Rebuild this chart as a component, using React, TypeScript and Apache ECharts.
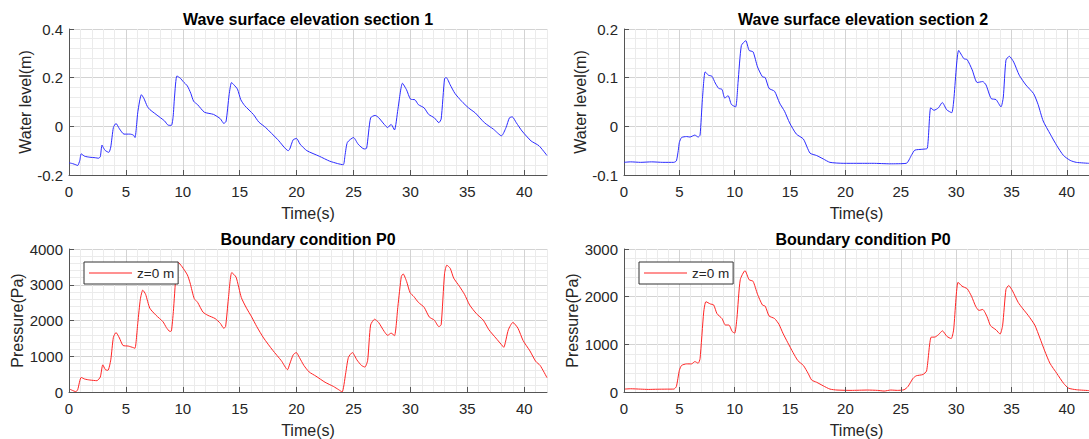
import { useEffect, useRef } from 'react';
import * as echarts from 'echarts';

// Wave surface elevation, section 1: [time (s), water level (m)]
const section1 = [
  [0, -0.15], [0.3, -0.153], [0.6, -0.158], [0.76, -0.161], [0.95, -0.14], [1.07, -0.113], [1.38, -0.123],
  [1.83, -0.127], [2.3, -0.129], [2.6, -0.131], [2.75, -0.125], [2.9, -0.077], [3.05, -0.09], [3.2, -0.1],
  [3.5, -0.107], [3.67, -0.085], [3.9, -0.005], [4.13, 0.012], [4.43, -0.01], [4.83, -0.032], [5.35, -0.032],
  [5.66, -0.036], [5.8, -0.046], [6.05, 0.06], [6.36, 0.13], [6.57, 0.116], [6.88, 0.082], [7.1, 0.069],
  [7.65, 0.049], [8.4, 0.022], [8.7, 0.005], [9.0, 0.004], [9.15, 0.04], [9.27, 0.12], [9.48, 0.207],
  [9.8, 0.197], [10.03, 0.184], [10.4, 0.166], [10.7, 0.136], [10.95, 0.103], [11.3, 0.089], [11.9, 0.058],
  [12.7, 0.049], [13.3, 0.031], [13.6, 0.012], [13.8, 0.02], [14.07, 0.13], [14.28, 0.18], [14.5, 0.17],
  [14.8, 0.153], [15.1, 0.109], [15.44, 0.085], [16.2, 0.049], [16.67, 0.018], [17.28, -0.005], [18.35, -0.055],
  [19.27, -0.1], [19.4, -0.093], [19.7, -0.055], [20.0, -0.05], [20.3, -0.073], [20.9, -0.1], [22.0, -0.123],
  [22.9, -0.143], [23.6, -0.153], [24.1, -0.158], [24.25, -0.12], [24.46, -0.066], [25.0, -0.046], [25.4, -0.073],
  [25.93, -0.093], [26.15, -0.09], [26.5, 0.035], [26.9, 0.045], [27.2, 0.036], [27.7, 0.008], [28.0, -0.005],
  [28.3, 0.008], [28.6, -0.015], [28.9, 0.07], [29.3, 0.177], [29.66, 0.15], [30.0, 0.112], [30.4, 0.109],
  [30.7, 0.089], [31.2, 0.076], [31.6, 0.049], [32.1, 0.035], [32.5, 0.015], [32.7, 0.03], [33.0, 0.197],
  [33.15, 0.2], [33.5, 0.17], [33.9, 0.136], [34.5, 0.103], [35.1, 0.076], [35.7, 0.055], [36.5, 0.015],
  [37.3, -0.012], [38.0, -0.039], [38.4, -0.005], [38.7, 0.035], [38.95, 0.039], [39.3, 0.015], [39.8, -0.019],
  [40.6, -0.06], [41.3, -0.08], [42.0, -0.12],
];

// Wave surface elevation, section 2: [time (s), water level (m)]
const section2 = [
  [0, -0.074], [0.6, -0.073], [1.5, -0.074], [2.5, -0.073], [3.5, -0.074], [4.5, -0.074], [4.73, -0.071],
  [4.9, -0.05], [5.0, -0.033], [5.2, -0.023], [5.65, -0.021], [5.95, -0.022], [6.4, -0.018], [6.7, -0.022],
  [6.87, -0.018], [7.08, 0.055], [7.33, 0.112], [7.63, 0.105], [7.94, 0.103], [8.24, 0.089], [8.55, 0.078],
  [8.85, 0.076], [9.1, 0.058], [9.4, 0.063], [9.7, 0.045], [10.08, 0.04], [10.3, 0.09], [10.6, 0.166],
  [11.0, 0.176], [11.3, 0.156], [11.66, 0.153], [12.06, 0.122], [12.5, 0.102], [12.76, 0.1], [13.1, 0.078],
  [13.6, 0.072], [14.05, 0.048], [14.5, 0.031], [14.96, 0.007], [15.57, -0.016], [16.2, -0.026], [16.8, -0.055],
  [17.4, -0.06], [18.0, -0.067], [18.6, -0.074], [19.85, -0.076], [21, -0.076], [22.5, -0.076], [24, -0.077],
  [25.5, -0.076], [25.95, -0.06], [26.26, -0.049], [27.0, -0.047], [27.4, -0.045], [27.7, 0.038], [28.0, 0.033],
  [28.4, 0.038], [28.75, 0.049], [29.15, 0.034], [29.6, 0.028], [29.77, 0.05], [30.23, 0.156], [30.7, 0.139],
  [31.0, 0.137], [31.45, 0.116], [31.9, 0.09], [32.4, 0.092], [32.7, 0.085], [33.16, 0.057], [33.6, 0.055],
  [34.05, 0.04], [34.26, 0.06], [34.5, 0.136], [34.8, 0.144], [35.2, 0.132], [35.7, 0.105], [36.3, 0.085],
  [37.0, 0.067], [37.4, 0.045], [37.86, 0.011], [38.5, -0.016], [39.1, -0.04], [39.7, -0.06], [40.3, -0.07],
  [40.85, -0.074], [42, -0.076],
];

// Boundary condition P0 (left): [time (s), pressure (Pa)]
const pressure1 = [
  [0, 90], [0.3, 45], [0.6, 10], [0.76, 60], [1.07, 407], [1.38, 362], [1.83, 335], [2.45, 317], [2.75, 420],
  [2.97, 760], [3.2, 624], [3.42, 606], [3.67, 900], [3.9, 1530], [4.13, 1665], [4.43, 1511], [4.74, 1303],
  [5.2, 1285], [5.66, 1240], [5.8, 1222], [6.05, 1950], [6.27, 2597], [6.48, 2850], [6.73, 2733], [7.1, 2344],
  [7.65, 2145], [8.26, 1964], [8.56, 1801], [8.87, 1692], [9.0, 1710], [9.17, 2250], [9.4, 3276], [9.57, 3638],
  [9.94, 3502], [10.4, 3276], [10.64, 3050], [11.0, 2615], [11.3, 2507], [11.77, 2235], [12.2, 2145],
  [12.84, 2054], [13.3, 1919], [13.6, 1783], [13.76, 1830], [14.0, 2597], [14.3, 3340], [14.68, 3213],
  [15.14, 2643], [15.6, 2344], [16.05, 2100], [16.5, 1828], [17.1, 1511], [17.9, 1167], [18.65, 878],
  [19.2, 624], [19.4, 790], [19.7, 1040], [19.97, 1104], [20.24, 968], [20.64, 742], [21.1, 561], [21.7, 443],
  [22.5, 272], [23.24, 154], [23.7, 63], [24.0, 0], [24.3, 500], [24.55, 968], [24.9, 1104], [25.3, 896],
  [25.7, 742], [26.0, 697], [26.24, 880], [26.5, 1873], [26.85, 2036], [27.2, 1946], [27.7, 1692], [28.0, 1584],
  [28.3, 1647], [28.6, 1575], [28.9, 2400], [29.2, 3231], [29.36, 3303], [29.66, 3095], [29.97, 2778],
  [30.3, 2670], [30.7, 2507], [31.2, 2371], [31.65, 2100], [32.1, 2009], [32.5, 1828], [32.7, 1880],
  [33.0, 3321], [33.2, 3548], [33.5, 3457], [33.8, 3186], [34.3, 2959], [34.75, 2733], [35.2, 2434],
  [35.8, 2190], [36.4, 2009], [36.9, 1738], [37.5, 1511], [38.1, 1285], [38.2, 1250], [38.6, 1738],
  [39.0, 1946], [39.45, 1783], [39.9, 1439], [40.5, 1149], [41.0, 860], [41.4, 742], [42, 400],
];

// Boundary condition P0 (right): [time (s), pressure (Pa)]
const pressure2 = [
  [0, 61], [0.6, 68], [1.5, 60], [2.2, 54], [3.0, 58], [3.8, 60], [4.5, 61], [4.73, 115], [5.0, 455], [5.2, 557],
  [5.65, 590], [6.1, 590], [6.4, 638], [6.7, 604], [6.87, 700], [7.2, 1677], [7.4, 1894], [7.8, 1847],
  [8.1, 1826], [8.4, 1643], [8.85, 1541], [9.16, 1405], [9.47, 1405], [9.77, 1270], [10.0, 1235], [10.2, 1550],
  [10.5, 2356], [10.93, 2546], [11.3, 2356], [11.66, 2322], [12.06, 2050], [12.5, 1826], [12.76, 1799],
  [13.1, 1596], [13.6, 1541], [14.0, 1419], [14.35, 1235], [14.8, 1032], [15.27, 828], [15.7, 659], [16.2, 557],
  [16.64, 387], [16.95, 251], [17.4, 204], [18.0, 129], [18.6, 61], [19.24, 41], [20.5, 34], [22.0, 41],
  [22.9, 34], [23.5, 20], [24.1, 41], [24.7, 34], [25.3, 48], [25.65, 115], [26.1, 285], [26.4, 340],
  [27.0, 367], [27.33, 441], [27.73, 1148], [28.1, 1154], [28.4, 1202], [28.76, 1283], [29.16, 1168],
  [29.55, 1120], [29.77, 1300], [30.17, 2302], [30.53, 2220], [31.0, 2166], [31.4, 2003], [31.76, 1799],
  [32.06, 1711], [32.4, 1731], [32.8, 1575], [33.1, 1392], [33.6, 1304], [33.97, 1215], [34.2, 1400],
  [34.5, 2152], [34.75, 2234], [35.1, 2118], [35.6, 1881], [36.03, 1745], [36.5, 1609], [37.1, 1405],
  [37.56, 1134], [38.0, 862], [38.47, 604], [39.1, 387], [39.7, 183], [40.15, 81], [40.85, 48], [42, 30],
];

const xTicks = [0, 5, 10, 15, 20, 25, 30, 35, 40];
const titles = [
  'Wave surface elevation section 1',
  'Wave surface elevation section 2',
  'Boundary condition P0',
  'Boundary condition P0',
];
const yNames = ['Water level(m)', 'Water level(m)', 'Pressure(Pa)', 'Pressure(Pa)'];
const yRanges = [
  [-0.2, 0.4, 0.2],
  [-0.1, 0.2, 0.1],
  [0, 4000, 1000],
  [0, 3000, 1000],
];
const xName = 'Time(s)';
const legendName = 'z=0 m';

const FONT = "'Liberation Sans', Arial, Helvetica, sans-serif";
const TEXT = '#262626';
const AXIS = '#555555';
const MAJOR = '#d3d3d3';
const MINOR = '#ebebeb';

const grids = [
  { left: 69, top: 29, width: 478, height: 146 },
  { left: 624, top: 29, width: 478, height: 146 },
  { left: 69, top: 249, width: 478, height: 145 },
  { left: 624, top: 249, width: 478, height: 145 },
];
const yNameGaps = [36, 36, 43, 44];

export default function App() {
  const ref = useRef<HTMLDivElement>(null);

  useEffect(() => {
    if (!ref.current) return;
    const chart = echarts.init(ref.current, undefined, { renderer: 'svg' });

    // primary x axes: line, ticks, labels, name
    const xMain = grids.map((_, i) => ({
      type: 'value',
      gridIndex: i,
      position: 'bottom',
      min: 0,
      max: 42,
      interval: 5,
      name: xName,
      nameLocation: 'middle',
      nameGap: 30,
      nameTextStyle: { fontSize: 16, color: TEXT, fontFamily: FONT },
      axisLine: { show: true, onZero: false, lineStyle: { color: AXIS, width: 1 } },
      axisTick: { show: true, inside: true, length: 5, customValues: xTicks, lineStyle: { color: AXIS } },
      axisLabel: {
        customValues: xTicks,
        margin: 9,
        fontSize: 15,
        color: TEXT,
        fontFamily: FONT,
        formatter: (v: number) => (v % 5 === 0 ? String(v) : ''),
      },
      splitLine: { show: false },
      z: 5,
    }));

    // companion x axes: only the major/minor vertical grid lines (every 1 s, darker every 5 s)
    const xGrid = grids.map((_, i) => ({
      type: 'value',
      gridIndex: i,
      position: 'top',
      min: 0,
      max: 42,
      interval: 1,
      axisLine: { show: false },
      axisTick: { show: false },
      axisLabel: { show: false },
      splitLine: { show: true, lineStyle: { color: [MAJOR, MINOR, MINOR, MINOR, MINOR], width: 1 } },
      z: 0,
    }));

    const yAxis = grids.map((_, i) => ({
      type: 'value',
      gridIndex: i,
      min: yRanges[i][0],
      max: yRanges[i][1],
      interval: yRanges[i][2],
      name: yNames[i],
      nameLocation: 'middle',
      nameGap: yNameGaps[i],
      nameTextStyle: { fontSize: 16, color: TEXT, fontFamily: FONT },
      axisLine: { show: true, onZero: false, lineStyle: { color: AXIS, width: 1 } },
      axisTick: { show: true, inside: true, length: 5, lineStyle: { color: AXIS } },
      axisLabel: {
        margin: 6,
        fontSize: 15,
        color: TEXT,
        fontFamily: FONT,
        formatter: (v: number) => String(Number(v.toFixed(4))),
      },
      splitLine: { show: true, lineStyle: { color: MAJOR, width: 1 } },
      minorTick: { show: true, splitNumber: 5, length: 0, lineStyle: { opacity: 0 } },
      minorSplitLine: { show: true, lineStyle: { color: MINOR, width: 1 } },
    }));

    const datasets = [section1, section2, pressure1, pressure2];
    const series = datasets.map((d, i) => ({
      type: 'line',
      name: i >= 2 ? legendName : titles[i],
      xAxisIndex: i,
      yAxisIndex: i,
      data: d,
      symbol: 'none',
      showSymbol: false,
      smooth: 0.2,
      clip: true,
      lineStyle: { color: i < 2 ? '#2b2bff' : '#ff2424', width: 1 },
      itemStyle: { color: i < 2 ? '#2b2bff' : '#ff2424' },
      z: 3,
    }));

    const legend = [84, 639].map((left) => ({
      show: true,
      data: [legendName],
      left,
      top: 262,
      orient: 'vertical',
      icon: 'rect',
      itemWidth: 43,
      itemHeight: 1.2,
      itemGap: 0,
      padding: [4, 4, 4, 5],
      borderColor: '#333333',
      borderWidth: 1,
      borderRadius: 0,
      backgroundColor: '#ffffff',
      selectedMode: false,
      textStyle: { fontSize: 13.5, color: TEXT, fontFamily: FONT },
    }));

    const graphic = grids.map((g, i) => ({
      type: 'text',
      x: g.left + g.width / 2,
      y: g.top - 9.5,
      z: 10,
      style: {
        text: titles[i],
        fill: '#000000',
        font: `bold 16px ${FONT}`,
        textAlign: 'center',
        textVerticalAlign: 'middle',
      },
    }));

    chart.setOption({
      animation: false,
      backgroundColor: '#ffffff',
      grid: grids.map((g) => ({ ...g, containLabel: false })),
      xAxis: [...xMain, ...xGrid],
      yAxis,
      series,
      legend,
      graphic,
    });

    return () => chart.dispose();
  }, []);

  return (
    <div
      ref={ref}
      style={{ position: 'fixed', left: 0, top: 0, width: 1089, height: 439, overflow: 'hidden' }}
    />
  );
}
